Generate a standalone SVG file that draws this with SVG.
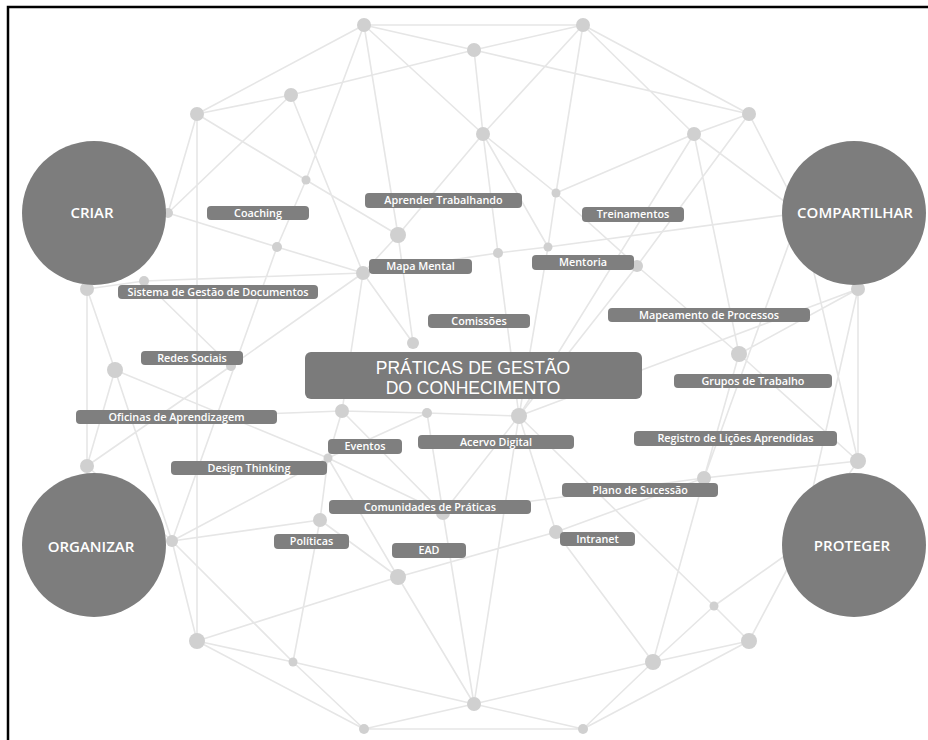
<svg xmlns="http://www.w3.org/2000/svg" width="928" height="740" viewBox="0 0 928 740">
<style>
.e{stroke:#e6e6e6;stroke-width:1.6;fill:none}
.d{fill:#d0d0d0}
.pill rect{fill:#7f7f7f}
.pill text{fill:#fff;font-family:"Open Sans","Liberation Sans",sans-serif;font-size:10.8px;font-weight:600;text-anchor:middle}
.big circle{fill:#7d7d7d}
.big text{fill:#fff;font-family:"Open Sans","Liberation Sans",sans-serif;font-size:15px;font-weight:600;text-anchor:middle}
.title rect{fill:#7b7b7b}
.title text{fill:#fff;font-family:"Liberation Sans",Arial,sans-serif;font-size:17.5px;text-anchor:middle}
</style>
<rect width="928" height="740" fill="#fff"/>
<g id="connectors" class="e">
<path d="M364 25L583 25M364 25L474 50M364 25L197 114M364 25L483 134M364 25L398 235M364 25L306 180M583 25L474 50M583 25L483 134M583 25L556 193M556 193L548 247M583 25L694 134M583 25L749 114M474 50L749 114M474 50L483 134M474 50L291 95M291 95L197 114M291 95L168 213M291 95L363 273M197 114L306 180M306 180L398 235M306 180L277 247M197 114L168 213M197 114L197 641"/>
<path d="M483 134L556 193M483 134L498 253M483 134L548 247M483 134L398 235M556 193L694 134M556 193L637 266M694 134L749 114M694 134L800 213M749 114L800 213M749 114L637 266M694 134L739 354M694 134L519 416"/>
<path d="M168 213L277 247M277 247L363 273M363 273L498 253M498 253L548 247M548 247L800 213M398 235L363 273M398 235L413 343M363 273L413 343M363 273L231 366M231 366L87 466M87 289L144 281M144 281L363 273M87 289L115 370M87 289L87 466M115 370L87 466M144 281L231 366M115 370L328 458M115 370L172 541M277 247L172 541M87 466L172 541M363 273L342 411M180 417L342 411M342 411L427 413M427 413L519 416M342 411L328 458M427 413L328 458"/>
<path d="M498 253L519 416M548 247L519 416M637 266L519 416M637 266L739 354M519 416L858 289M858 289L739 354M858 289L858 461M858 289L800 213M858 289L800 545M800 213L704 478M800 213L858 461M739 354L704 478M739 354L858 461M704 478L858 461M858 461L800 545"/>
<path d="M519 416L443 513M519 416L556 532M519 416L714 606M714 606L749 641M653 662L714 606M714 606L800 545M749 641L800 545M556 532L704 478M556 532L653 662M556 532L398 577M704 478L443 513M704 478L653 662M749 641L653 662M749 641L583 729M653 662L583 729M653 662L474 704M474 704L583 729M364 729L583 729M364 729L474 704M197 641L364 729M293 662L364 729M293 662L474 704M197 641L293 662M197 641L398 577M172 541L197 641M172 541L293 662M172 541L320 520M172 541L328 458M328 458L320 520M320 520L293 662M320 520L398 577M328 458L443 513M342 411L443 513M427 413L443 513M443 513L474 704M398 577L474 704M328 458L398 577M519 416L474 704"/>
</g>
<g id="dots" class="d">
<g id="n-a"><circle cx="364" cy="25" r="7"/></g>
<g id="n-b"><circle cx="583" cy="25" r="7"/></g>
<g id="n-c"><circle cx="474" cy="50" r="7"/></g>
<g id="n-d"><circle cx="291" cy="95" r="7"/></g>
<g id="n-e"><circle cx="197" cy="114" r="7"/></g>
<g id="n-f"><circle cx="483" cy="134" r="7"/></g>
<g id="n-g"><circle cx="694" cy="134" r="7"/></g>
<g id="n-h"><circle cx="749" cy="114" r="7"/></g>
<g id="n-i"><circle cx="306" cy="180" r="4.5"/></g>
<g id="n-j"><circle cx="556" cy="193" r="4.5"/></g>
<g id="n-k"><circle cx="398" cy="235" r="8"/></g>
<g id="n-l"><circle cx="277" cy="247" r="5"/></g>
<g id="n-m"><circle cx="498" cy="253" r="5"/></g>
<g id="n-n"><circle cx="548" cy="247" r="4.5"/></g>
<g id="n-o"><circle cx="363" cy="273" r="7"/></g>
<g id="n-p"><circle cx="637" cy="266" r="6"/></g>
<g id="n-q"><circle cx="87" cy="289" r="7"/></g>
<g id="n-r"><circle cx="144" cy="281" r="5"/></g>
<g id="n-s"><circle cx="168" cy="213" r="5"/></g>
<g id="n-t"><circle cx="858" cy="289" r="7"/></g>
<g id="n-u"><circle cx="115" cy="370" r="8"/></g>
<g id="n-v"><circle cx="231" cy="366" r="5"/></g>
<g id="n-w"><circle cx="413" cy="343" r="6"/></g>
<g id="n-x"><circle cx="739" cy="354" r="8"/></g>
<g id="n-y"><circle cx="342" cy="411" r="7"/></g>
<g id="n-z"><circle cx="427" cy="413" r="5"/></g>
<g id="n-aa"><circle cx="519" cy="416" r="8"/></g>
<g id="n-ab"><circle cx="87" cy="466" r="7"/></g>
<g id="n-ac"><circle cx="858" cy="461" r="8"/></g>
<g id="n-ad"><circle cx="704" cy="478" r="7"/></g>
<g id="n-ae"><circle cx="320" cy="520" r="7"/></g>
<g id="n-af"><circle cx="443" cy="513" r="7"/></g>
<g id="n-ag"><circle cx="556" cy="532" r="7"/></g>
<g id="n-ah"><circle cx="172" cy="541" r="6"/></g>
<g id="n-ai"><circle cx="398" cy="577" r="8"/></g>
<g id="n-aj"><circle cx="197" cy="641" r="8"/></g>
<g id="n-ak"><circle cx="293" cy="662" r="4.5"/></g>
<g id="n-al"><circle cx="364" cy="729" r="5"/></g>
<g id="n-am"><circle cx="474" cy="704" r="7"/></g>
<g id="n-an"><circle cx="583" cy="729" r="5"/></g>
<g id="n-ao"><circle cx="653" cy="662" r="8"/></g>
<g id="n-ap"><circle cx="714" cy="606" r="4.5"/></g>
<g id="n-aq"><circle cx="749" cy="641" r="8"/></g>
<g id="n-ev"><circle cx="328" cy="458" r="4.5"/></g>
</g>
<g id="criar" class="big"><circle cx="94" cy="213" r="72"/><text x="92" y="218">CRIAR</text></g>
<g id="compartilhar" class="big"><circle cx="854" cy="213" r="72"/><text x="855" y="218">COMPARTILHAR</text></g>
<g id="organizar" class="big"><circle cx="94" cy="545" r="72"/><text x="91" y="552">ORGANIZAR</text></g>
<g id="proteger" class="big"><circle cx="854" cy="545" r="72"/><text x="852" y="551">PROTEGER</text></g>
<g id="praticas" class="title"><rect x="305" y="352" width="337" height="47" rx="6"/><text x="473" y="374">PRÁTICAS DE GESTÃO</text><text x="473" y="394">DO CONHECIMENTO</text></g>
<g id="coaching" class="pill"><rect x="207" y="206" width="102" height="14" rx="4"/><text x="258" y="216.8">Coaching</text></g>
<g id="aprender" class="pill"><rect x="365" y="193" width="157" height="15" rx="4"/><text x="443.5" y="204.3">Aprender Trabalhando</text></g>
<g id="treinamentos" class="pill"><rect x="582" y="207" width="102" height="15" rx="4"/><text x="633" y="218.3">Treinamentos</text></g>
<g id="mapa-mental" class="pill"><rect x="369" y="259" width="103" height="15" rx="4"/><text x="420.5" y="270.3">Mapa Mental</text></g>
<g id="mentoria" class="pill"><rect x="532" y="255" width="102" height="15" rx="4"/><text x="583" y="266.3">Mentoria</text></g>
<g id="sistema" class="pill"><rect x="118" y="285" width="200" height="14" rx="4"/><text x="218" y="295.8">Sistema de Gestão de Documentos</text></g>
<g id="comissoes" class="pill"><rect x="428" y="314" width="102" height="14" rx="4"/><text x="479" y="324.8">Comissões</text></g>
<g id="mapeamento" class="pill"><rect x="608" y="308" width="202" height="14" rx="4"/><text x="709" y="318.8">Mapeamento de Processos</text></g>
<g id="redes" class="pill"><rect x="141" y="351" width="102" height="14" rx="4"/><text x="192" y="361.8">Redes Sociais</text></g>
<g id="grupos" class="pill"><rect x="674" y="374" width="158" height="14" rx="4"/><text x="753" y="384.8">Grupos de Trabalho</text></g>
<g id="oficinas" class="pill"><rect x="76" y="410" width="201" height="14" rx="4"/><text x="176.5" y="420.8">Oficinas de Aprendizagem</text></g>
<g id="eventos" class="pill"><rect x="328" y="439" width="74" height="15" rx="4"/><text x="365" y="450.3">Eventos</text></g>
<g id="acervo" class="pill"><rect x="418" y="435" width="156" height="14" rx="4"/><text x="496" y="445.8">Acervo Digital</text></g>
<g id="registro" class="pill"><rect x="634" y="431" width="203" height="15" rx="4"/><text x="735.5" y="442.3">Registro de Lições Aprendidas</text></g>
<g id="design" class="pill"><rect x="171" y="461" width="156" height="14" rx="4"/><text x="249" y="471.8">Design Thinking</text></g>
<g id="plano" class="pill"><rect x="562" y="483" width="156" height="14" rx="4"/><text x="640" y="493.8">Plano de Sucessão</text></g>
<g id="comunidades" class="pill"><rect x="329" y="500" width="202" height="14" rx="4"/><text x="430" y="510.8">Comunidades de Práticas</text></g>
<g id="politicas" class="pill"><rect x="274" y="534" width="75" height="15" rx="4"/><text x="311.5" y="545.3">Políticas</text></g>
<g id="ead" class="pill"><rect x="392" y="543" width="74" height="15" rx="4"/><text x="429" y="554.3">EAD</text></g>
<g id="intranet" class="pill"><rect x="560" y="532" width="75" height="14" rx="4"/><text x="597.5" y="542.8">Intranet</text></g>
<path d="M8 740V7H928" fill="none" stroke="#000" stroke-width="2.5"/>
</svg>
